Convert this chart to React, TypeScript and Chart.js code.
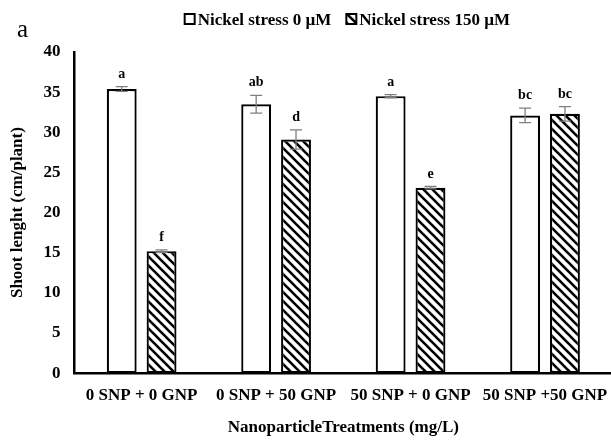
import React, { useEffect, useRef } from "react";
import { Chart, registerables } from "chart.js";

Chart.register(...registerables);

const categories = ["0 SNP + 0 GNP", "0 SNP + 50 GNP", "50 SNP + 0 GNP", "50 SNP +50 GNP"];
const seriesNames = ["Nickel stress 0 \u00b5M", "Nickel stress 150 \u00b5M"];
const ni0Values = [35.4, 33.5, 34.5, 32.1];
const ni0Errors = [0.3, 1.1, 0.2, 0.9];
const ni0Letters = ["a", "ab", "a", "bc"];
const ni150Values = [15.2, 29.1, 23.1, 32.3];
const ni150Errors = [0.15, 1.2, 0.15, 0.9];
const ni150Letters = ["f", "d", "e", "bc"];
const yMin = 0;
const yMax = 40;
const yStep = 5;
const yTitle = "Shoot lenght (cm/plant)";
const xTitle = "NanoparticleTreatments (mg/L)";
const panelLabel = "a";

const errorsBySeries = [ni0Errors, ni150Errors];
const lettersBySeries = [ni0Letters, ni150Letters];

const SERIF = '"Liberation Serif", "Times New Roman", serif';

function makeHatch(): CanvasPattern | string {
  const s = 9;
  const c = document.createElement("canvas");
  c.width = s;
  c.height = s;
  const g = c.getContext("2d");
  if (!g) return "#fff";
  g.fillStyle = "#fff";
  g.fillRect(0, 0, s, s);
  g.strokeStyle = "#000";
  g.lineWidth = 2.6;
  for (let k = -1; k <= 1; k++) {
    g.beginPath();
    g.moveTo(k * s - 1, -1);
    g.lineTo(k * s + s + 1, s + 1);
    g.stroke();
  }
  const p = g.createPattern(c, "repeat");
  return p || "#fff";
}

const overlayPlugin = {
  id: "overlayPlugin",
  afterDatasetsDraw(chart: any) {
    const ctx: CanvasRenderingContext2D = chart.ctx;
    const yScale = chart.scales.y;
    chart.data.datasets.forEach((ds: any, i: number) => {
      const meta = chart.getDatasetMeta(i);
      meta.data.forEach((bar: any, j: number) => {
        const v = ds.data[j] as number;
        const e = errorsBySeries[i][j];
        const x = bar.x;
        const yt = yScale.getPixelForValue(v + e);
        const yb = yScale.getPixelForValue(v - e);
        ctx.save();
        ctx.strokeStyle = "#7f7f7f";
        ctx.lineWidth = 1.3;
        ctx.beginPath();
        ctx.moveTo(x, yt);
        ctx.lineTo(x, yb);
        ctx.moveTo(x - 6, yt);
        ctx.lineTo(x + 6, yt);
        ctx.moveTo(x - 6, yb);
        ctx.lineTo(x + 6, yb);
        ctx.stroke();
        ctx.fillStyle = "#000";
        ctx.font = `bold 14px ${SERIF}`;
        ctx.textAlign = "center";
        ctx.textBaseline = "alphabetic";
        ctx.fillText(lettersBySeries[i][j], x, yt - 9);
        ctx.restore();
      });
    });
  },
  afterDraw(chart: any) {
    const ctx: CanvasRenderingContext2D = chart.ctx;
    const area = chart.chartArea;
    ctx.save();
    // panel label
    ctx.fillStyle = "#000";
    ctx.font = `25px ${SERIF}`;
    ctx.textAlign = "left";
    ctx.textBaseline = "alphabetic";
    ctx.fillText(panelLabel, 17, 37);
    // legend
    ctx.font = `bold 17px ${SERIF}`;
    const box = 10;
    const boxGap = 3;
    const itemGap = 15;
    const items = chart.data.datasets.map((ds: any) => ({
      ds,
      w: box + boxGap + ctx.measureText(ds.label).width,
    }));
    const total = items.reduce((a: number, it: any) => a + it.w, 0) + itemGap * (items.length - 1);
    let x = (area.left + area.right) / 2 + 4 - total / 2;
    const boxTop = 14;
    const baseline = 25;
    items.forEach((it: any) => {
      ctx.fillStyle = it.ds.backgroundColor;
      ctx.fillRect(x, boxTop, box, box);
      ctx.strokeStyle = "#000";
      ctx.lineWidth = 2;
      ctx.strokeRect(x, boxTop, box, box);
      ctx.fillStyle = "#000";
      ctx.fillText(it.ds.label, x + box + boxGap, baseline);
      x += it.w + itemGap;
    });
    ctx.restore();
  },
};

export default function App() {
  const ref = useRef<HTMLCanvasElement | null>(null);
  useEffect(() => {
    if (!ref.current) return;
    const hatch = makeHatch();
    const chart = new Chart(ref.current, {
      type: "bar",
      data: {
        labels: categories,
        datasets: [
          {
            label: seriesNames[0],
            data: ni0Values,
            backgroundColor: "#ffffff",
            borderColor: "#000000",
            borderWidth: 2.2,
            borderSkipped: false,
            categoryPercentage: 80 / 135,
            barPercentage: 0.75,
          },
          {
            label: seriesNames[1],
            data: ni150Values,
            backgroundColor: hatch as any,
            borderColor: "#000000",
            borderWidth: 2.2,
            borderSkipped: false,
            categoryPercentage: 80 / 135,
            barPercentage: 0.75,
          },
        ],
      },
      options: {
        animation: false,
        responsive: true,
        maintainAspectRatio: false,
        devicePixelRatio: 1,
        layout: { padding: { top: 52, right: 6, left: 0, bottom: 0 } },
        plugins: {
          legend: { display: false },
          tooltip: { enabled: false },
          title: { display: false },
        },
        scales: {
          x: {
            grid: { display: false, drawTicks: false },
            border: { display: true, color: "#000", width: 2.5 },
            ticks: {
              color: "#000",
              font: { family: SERIF, size: 17, weight: "bold" },
              padding: 12,
              maxRotation: 0,
              autoSkip: false,
            },
            title: {
              display: true,
              text: xTitle,
              color: "#000",
              font: { family: SERIF, size: 17, weight: "bold" },
              padding: { top: 0, bottom: 3 },
            },
          },
          y: {
            min: yMin,
            max: yMax,
            grid: { display: false, drawTicks: false },
            border: { display: true, color: "#000", width: 2.5 },
            ticks: {
              stepSize: yStep,
              color: "#000",
              font: { family: SERIF, size: 17, weight: "bold" },
              padding: 14,
            },
            title: {
              display: true,
              text: yTitle,
              color: "#000",
              font: { family: SERIF, size: 17, weight: "bold" },
              padding: { top: 7, bottom: 2 },
            },
          },
        },
      },
      plugins: [overlayPlugin],
    });
    return () => chart.destroy();
  }, []);

  return (
    <div
      style={{
        position: "absolute",
        left: 0,
        top: 0,
        width: 611,
        height: 441,
        overflow: "hidden",
        background: "#fff",
      }}
    >
      <div style={{ position: "relative", width: 620, height: 441 }}>
        <canvas ref={ref} />
      </div>
    </div>
  );
}
